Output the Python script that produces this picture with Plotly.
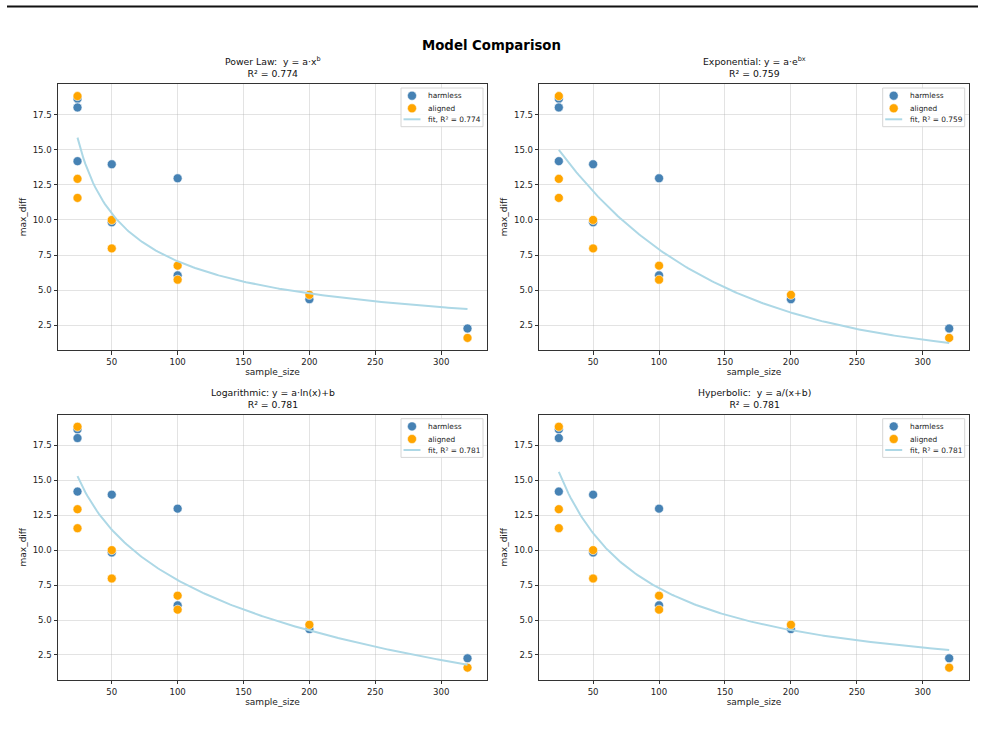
import numpy as np
import plotly.graph_objects as go

# ---- data ----
harmless_x = [24, 24, 24, 50, 50, 100, 100, 200, 320]
harmless_y = [18.64, 18.02, 14.19, 13.97, 9.83, 12.97, 6.05, 4.35, 2.26]
aligned_x = [24, 24, 24, 50, 50, 100, 100, 200, 320]
aligned_y = [18.83, 12.93, 11.57, 10.00, 7.97, 6.74, 5.74, 4.66, 1.59]

model_names = ["Power Law", "Exponential", "Logarithmic", "Hyperbolic"]
model_titles = ["Power Law:  y = a·x<sup>b</sup>", "Exponential: y = a·e<sup>bx</sup>",
                "Logarithmic: y = a·ln(x)+b", "Hyperbolic:  y = a/(x+b)"]
r2_values = [0.774, 0.759, 0.781, 0.781]
# fitted parameters (a, b) estimated from the curves in the picture
power_params = (96.5, -0.568)
exp_params = (18.36, -0.00844)
log_params = (-5.21, 31.85)
hyp_params = (1036.6, 42.45)

x_ticks = [50, 100, 150, 200, 250, 300]
y_ticks = [2.5, 5.0, 7.5, 10.0, 12.5, 15.0, 17.5]
legend_labels = ["harmless", "aligned"]

W, H = 985, 750
BLUE = "#4682B4"
ORANGE = "#FFA500"
FIT = "#ADD8E6"
FONT = "DejaVu Sans"

# panel boxes in pixels (x0, x1, y0_top, y1_bottom)
boxes = [(58, 487, 84, 350), (539.3, 968.7, 84, 350),
         (58, 487, 414.7, 679.7), (539.3, 968.7, 414.7, 679.7)]

def model_curve(i, xs):
    if i == 0:
        a, b = power_params
        return a * xs ** b
    if i == 1:
        a, b = exp_params
        return a * np.exp(b * xs)
    if i == 2:
        a, b = log_params
        return a * np.log(xs) + b
    a, b = hyp_params
    return a / (xs + b)

all_x = np.array(harmless_x + aligned_x, dtype=float)
all_y = np.array(harmless_y + aligned_y, dtype=float)
xmin, xmax = all_x.min(), all_x.max()
ymin, ymax = all_y.min(), all_y.max()
xr = [xmin - 0.05 * (xmax - xmin), xmax + 0.05 * (xmax - xmin)]
yr = [ymin - 0.05 * (ymax - ymin), ymax + 0.05 * (ymax - ymin)]

fig = go.Figure()
layout = dict(
    width=W, height=H, margin=dict(l=0, r=0, t=0, b=0),
    paper_bgcolor="white", plot_bgcolor="white",
    font=dict(family=FONT, size=9, color="#222"),
    showlegend=False,
)
annotations = []
shapes = []

def px(xp):
    return xp / W

def py(yp):
    return 1 - yp / H

for i in range(4):
    x0, x1, yt, yb = boxes[i]
    sfx = "" if i == 0 else str(i + 1)
    xa, ya = "x" + sfx, "y" + sfx
    axis_common = dict(
        showgrid=True, gridcolor="rgba(176,176,176,0.35)", gridwidth=0.8,
        zeroline=False, showline=True, linecolor="#333", linewidth=1, mirror=True,
        ticks="outside", ticklen=3.5, tickcolor="#333", tickwidth=0.8,
        tickfont=dict(family=FONT, size=8.6, color="#222"),
    )
    layout["xaxis" + sfx] = dict(
        axis_common, domain=[x0 / W, x1 / W], anchor=ya, range=xr,
        tickvals=x_ticks, ticktext=[str(v) for v in x_ticks],
        title=dict(text="sample_size", font=dict(family=FONT, size=9), standoff=2),
    )
    layout["yaxis" + sfx] = dict(
        axis_common, domain=[1 - yb / H, 1 - yt / H], anchor=xa, range=yr,
        tickvals=y_ticks, ticktext=["%.1f" % v for v in y_ticks],
        title=dict(text="max_diff", font=dict(family=FONT, size=9), standoff=4),
    )
    fig.add_trace(go.Scatter(
        x=harmless_x, y=harmless_y, mode="markers", name=legend_labels[0],
        marker=dict(color=BLUE, size=9, line=dict(color="white", width=0.6)),
        xaxis=xa, yaxis=ya,
    ))
    fig.add_trace(go.Scatter(
        x=aligned_x, y=aligned_y, mode="markers", name=legend_labels[1],
        marker=dict(color=ORANGE, size=9, line=dict(color="white", width=0.6)),
        xaxis=xa, yaxis=ya,
    ))
    xs = np.linspace(xmin, xmax, 200)
    fit_label = "fit, R² = %.3f" % r2_values[i]
    fig.add_trace(go.Scatter(
        x=xs, y=model_curve(i, xs), mode="lines", name=fit_label,
        line=dict(color=FIT, width=2), xaxis=xa, yaxis=ya,
    ))
    annotations.append(dict(
        text=model_titles[i] + "<br>R² = %.3f" % r2_values[i],
        x=(x0 + x1) / 2 / W, y=1 - (yt - 3) / H, xref="paper", yref="paper",
        xanchor="center", yanchor="bottom", showarrow=False,
        font=dict(family=FONT, size=9.3, color="#111"),
    ))

    # legend box (matplotlib-style, compact)
    lx1 = x1 - 4
    lx0 = lx1 - 82
    ly0 = yt + 4
    ly1 = ly0 + 38.7
    shapes.append(dict(type="rect", xref="paper", yref="paper",
                       x0=px(lx0), x1=px(lx1), y0=py(ly1), y1=py(ly0),
                       fillcolor="rgba(255,255,255,0.85)",
                       line=dict(color="#d6d6d6", width=1), layer="above"))
    rows = [ly0 + 7.7, ly0 + 20.3, ly0 + 31.3]
    mx = lx0 + 11
    for r, col in zip(rows[:2], [BLUE, ORANGE]):
        shapes.append(dict(type="circle", xref="paper", yref="paper",
                           x0=px(mx - 4.5), x1=px(mx + 4.5),
                           y0=py(r + 4.5), y1=py(r - 4.5),
                           fillcolor=col, line=dict(color="white", width=0.5),
                           layer="above"))
    shapes.append(dict(type="line", xref="paper", yref="paper",
                       x0=px(lx0 + 2.5), x1=px(lx0 + 19.5),
                       y0=py(rows[2]), y1=py(rows[2]),
                       line=dict(color=FIT, width=2), layer="above"))
    for r, lab in zip(rows, legend_labels + [fit_label]):
        annotations.append(dict(
            text=lab, x=px(lx0 + 25), y=py(r), xref="paper", yref="paper",
            xanchor="left", yanchor="middle", showarrow=False,
            font=dict(family=FONT, size=7.4, color="#222"),
        ))

annotations.append(dict(
    text="<b>Model Comparison</b>", x=491.5 / W, y=1 - 45 / H, xref="paper", yref="paper",
    xanchor="center", yanchor="middle", showarrow=False,
    font=dict(family=FONT, size=13.3, color="#000"),
))
shapes.append(dict(type="line", xref="paper", yref="paper",
                   x0=7 / W, x1=978 / W, y0=1 - 6.5 / H, y1=1 - 6.5 / H,
                   line=dict(color="#111", width=2.2)))
layout["annotations"] = annotations
layout["shapes"] = shapes
fig.update_layout(**layout)
fig.write_html("out.html")
